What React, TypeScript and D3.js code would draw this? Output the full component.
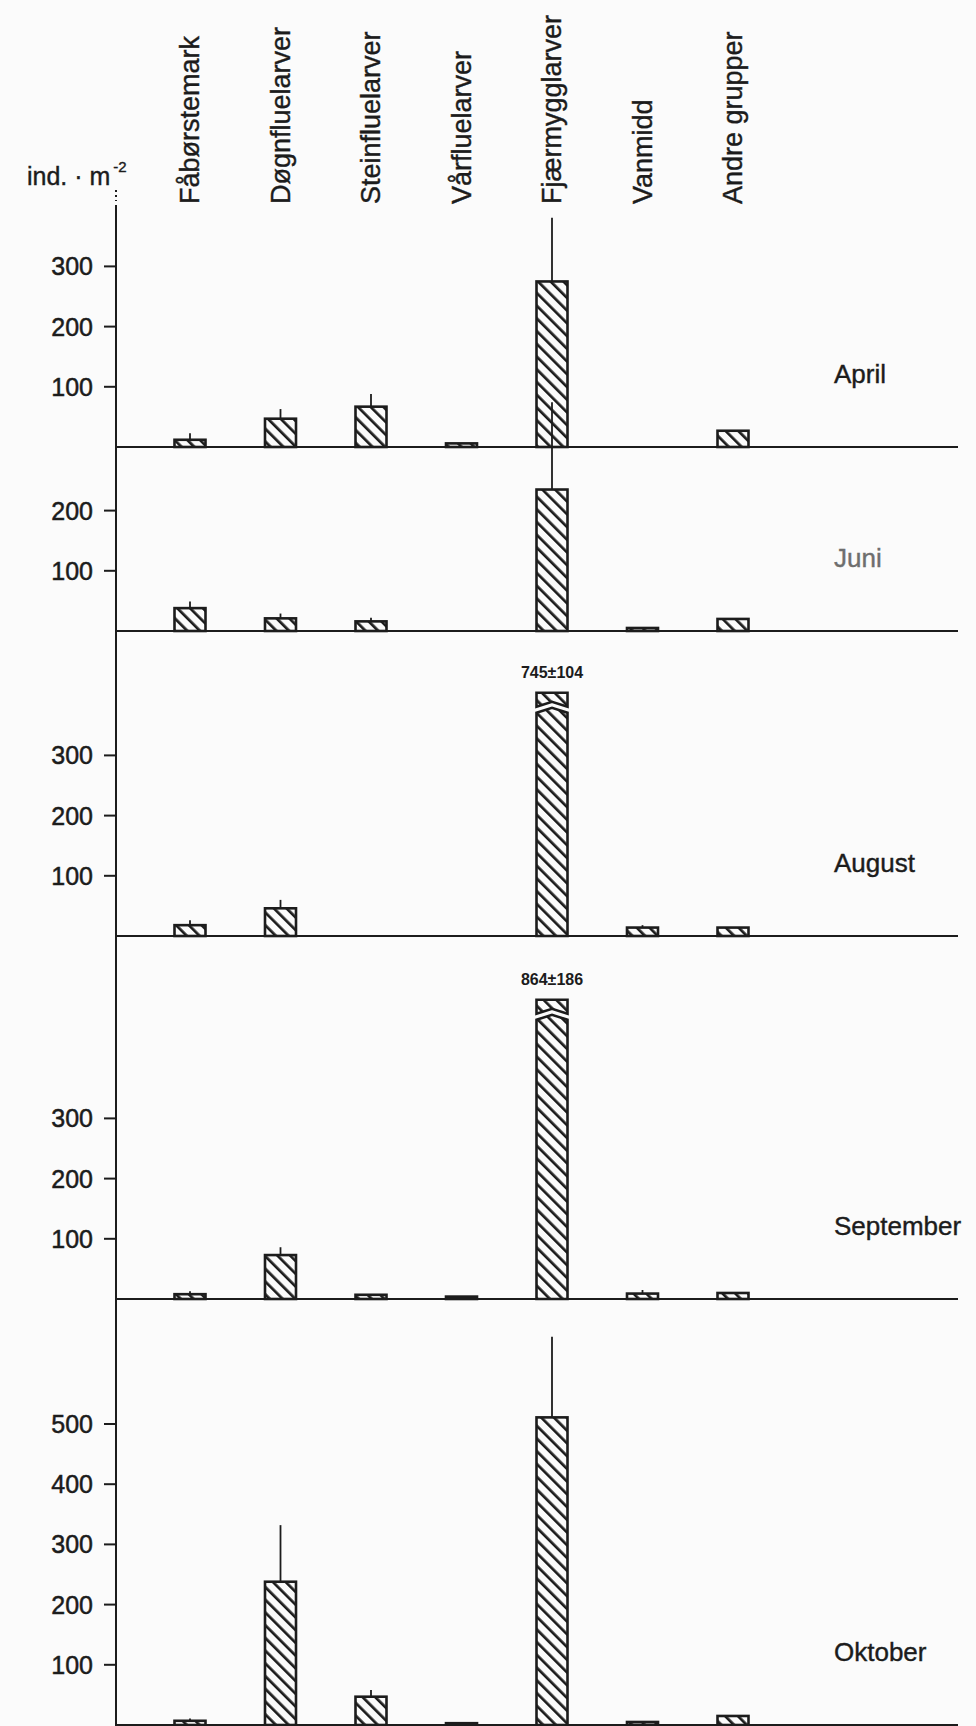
import React from "react";
import * as d3 from "d3";

// Benthic fauna density (ind. per m²), mean and standard deviation per group and month
const categories = [
  "Fåbørstemark",
  "Døgnfluelarver",
  "Steinfluelarver",
  "Vårfluelarver",
  "Fjærmygglarver",
  "Vanmidd",
  "Andre grupper",
];
const months = ["April", "Juni", "August", "September", "Oktober"];

const aprilMean = [12, 47, 67, 6, 275, 0, 27];
const aprilSd = [11, 16, 21, 0, 106, 0, 0];
const juniMean = [38, 21, 16, 0, 235, 5, 20];
const juniSd = [11, 8, 6, 0, 145, 0, 0];
const augustMean = [18, 46, 0, 0, 745, 14, 14];
const augustSd = [8, 14, 0, 0, 104, 4, 0];
const septemberMean = [8, 73, 7, 4, 864, 9, 10];
const septemberSd = [5, 13, 0, 0, 186, 6, 0];
const oktoberMean = [7, 238, 47, 3, 511, 5, 15];
const oktoberSd = [4, 94, 11, 0, 134, 0, 0];

const means = [aprilMean, juniMean, augustMean, septemberMean, oktoberMean];
const sds = [aprilSd, juniSd, augustSd, septemberSd, oktoberSd];

const monthTicks = [
  [100, 200, 300],
  [100, 200],
  [100, 200, 300],
  [100, 200, 300],
  [100, 200, 300, 400, 500],
];
// value at which a bar is cut by an axis break (null = no break)
const axisBreak: (number | null)[] = [null, null, 404, 497, null];

const W = 976;
const H = 1726;
const axisX = 116;
const axisTop = 205;
const lineEnd = 958;
const baselines = [447, 631, 936, 1299, 1725];
const pxPerUnit = 0.602;
const barW = 31;
const ink = "#1c1c1c";
const paper = "#fbfbfb";
const font = "'Liberation Sans', Arial, Helvetica, sans-serif";

export default function App() {
  const x = d3.scalePoint<string>().domain(categories).range([190, 733]);

  const panels = months.map((m, i) => {
    const base = baselines[i];
    const top = i === 0 ? 208 : baselines[i - 1];
    const y = d3
      .scaleLinear()
      .domain([0, (base - top) / pxPerUnit])
      .range([base, top]);
    return { month: m, i, base, top, y };
  });

  return (
    <svg
      width={W}
      height={H}
      viewBox={`0 0 ${W} ${H}`}
      style={{ position: "absolute", left: 0, top: 0, background: paper }}
      fontFamily={font}
    >
      <defs>
        {/* back-slash hatching */}
        <pattern
          id="hatch"
          patternUnits="userSpaceOnUse"
          width={9}
          height={9}
          patternTransform="rotate(-45)"
        >
          <rect x={0} y={0} width={9} height={9} fill={paper} />
          <rect x={0} y={0} width={2.7} height={9} fill={ink} />
        </pattern>
      </defs>
      <rect x={0} y={0} width={W} height={H} fill={paper} />

      {/* unit label */}
      <text x={27} y={185} fontSize={25} fill={ink} stroke={ink} strokeWidth={0.4}>
        ind. · m
        <tspan dx={3} dy={-13} fontSize={15}>
          -2
        </tspan>
      </text>
      <line
        x1={axisX}
        x2={axisX}
        y1={190}
        y2={201}
        stroke={ink}
        strokeWidth={2}
        strokeDasharray="2 3"
      />

      {/* category labels */}
      {categories.map((c) => (
        <text
          key={c}
          transform={`translate(${(x(c) as number) + 9},204) rotate(-90)`}
          fontSize={27}
          fill={ink}
          stroke={ink}
          strokeWidth={0.4}
        >
          {c}
        </text>
      ))}

      {/* y axis */}
      <line x1={axisX} x2={axisX} y1={axisTop} y2={H} stroke={ink} strokeWidth={2} />

      {panels.map(({ month, i, base, y }) => {
        const brk = axisBreak[i];
        return (
          <g key={month}>
            {monthTicks[i].map((t) => (
              <g key={t}>
                <line x1={axisX - 12} x2={axisX} y1={y(t)} y2={y(t)} stroke={ink} strokeWidth={2} />
                <text
                  x={93}
                  y={y(t)}
                  dy="0.36em"
                  textAnchor="end"
                  fontSize={25}
                  fill={ink}
                  stroke={ink}
                  strokeWidth={0.5}
                >
                  {t}
                </text>
              </g>
            ))}

            {categories.map((c, j) => {
              const v = means[i][j];
              const sd = sds[i][j];
              if (v <= 0) return null;
              const cx = x(c) as number;
              const x0 = cx - barW / 2;
              const x1 = cx + barW / 2;
              if (brk !== null && v > brk) {
                const ty = y(brk);
                const upper = `M${x0},${ty}H${x1}V${ty + 14}L${cx},${ty + 9}L${x0},${ty + 14}Z`;
                const lower = `M${x0},${ty + 20}L${cx},${ty + 15}L${x1},${ty + 20}V${base}H${x0}Z`;
                return (
                  <g key={c}>
                    <path d={upper} fill="url(#hatch)" stroke={ink} strokeWidth={2.6} />
                    <path d={lower} fill="url(#hatch)" stroke={ink} strokeWidth={2.6} />
                    <text
                      x={cx}
                      y={ty - 15}
                      textAnchor="middle"
                      fontSize={16}
                      fontWeight="bold"
                      fill={ink}
                    >
                      {`${v}±${sd}`}
                    </text>
                  </g>
                );
              }
              return (
                <g key={c}>
                  {sd > 0 && (
                    <line
                      x1={cx}
                      x2={cx}
                      y1={y(v)}
                      y2={y(v + sd)}
                      stroke={ink}
                      strokeWidth={1.8}
                    />
                  )}
                  <rect
                    x={x0}
                    y={y(v)}
                    width={barW}
                    height={base - y(v)}
                    fill="url(#hatch)"
                    stroke={ink}
                    strokeWidth={2.6}
                  />
                </g>
              );
            })}

            <line x1={axisX} x2={lineEnd} y1={base} y2={base} stroke={ink} strokeWidth={2.2} />

            <text
              x={834}
              y={base - 64}
              fontSize={26}
              fill={month === "Juni" ? "#6e6e6e" : ink}
              stroke={month === "Juni" ? "#6e6e6e" : ink}
              strokeWidth={0.4}
            >
              {month}
            </text>
          </g>
        );
      })}
    </svg>
  );
}
